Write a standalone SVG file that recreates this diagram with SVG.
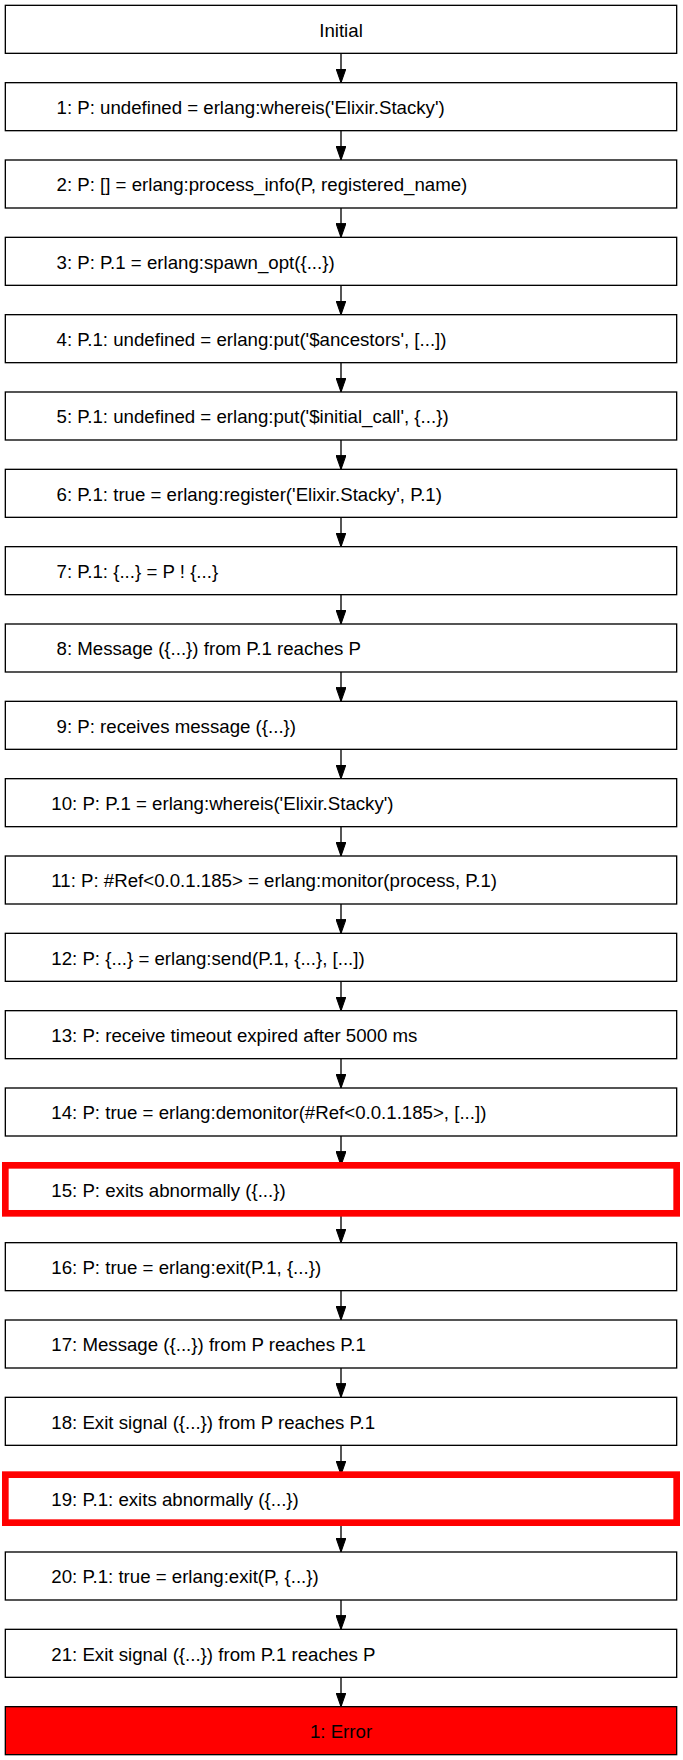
<svg xmlns="http://www.w3.org/2000/svg" width="683" height="1760" viewBox="0 0 683 1760">
<style>
.box{fill:#ffffff;stroke:#000000;stroke-width:1.33}
.hl{fill:#ffffff;stroke:#ff0000;stroke-width:6.67}
.err{fill:#ff0000;stroke:#000000;stroke-width:1.33}
text{font-family:"Liberation Sans",Arial,Helvetica,sans-serif;font-size:18.67px;fill:#000000}
.c{text-anchor:middle}
.edge{stroke:#000000;stroke-width:1.33;fill:none}
</style>
<defs>
<marker id="ah" markerUnits="userSpaceOnUse" markerWidth="14" markerHeight="10" viewBox="0 -4.67 13.33 9.34" refX="13.33" refY="0" orient="auto">
<path d="M0,-4.67 L13.33,0 L0,4.67 Z" fill="#000000" stroke="#000000" stroke-width="1"/>
</marker>
</defs>
<g id="connectors">
<line class="edge" x1="341" y1="53.33" x2="341" y2="82.67" marker-end="url(#ah)"/>
<line class="edge" x1="341" y1="130.67" x2="341" y2="160" marker-end="url(#ah)"/>
<line class="edge" x1="341" y1="208" x2="341" y2="237.33" marker-end="url(#ah)"/>
<line class="edge" x1="341" y1="285.33" x2="341" y2="314.67" marker-end="url(#ah)"/>
<line class="edge" x1="341" y1="362.67" x2="341" y2="392" marker-end="url(#ah)"/>
<line class="edge" x1="341" y1="440" x2="341" y2="469.33" marker-end="url(#ah)"/>
<line class="edge" x1="341" y1="517.33" x2="341" y2="546.67" marker-end="url(#ah)"/>
<line class="edge" x1="341" y1="594.67" x2="341" y2="624" marker-end="url(#ah)"/>
<line class="edge" x1="341" y1="672" x2="341" y2="701.33" marker-end="url(#ah)"/>
<line class="edge" x1="341" y1="749.33" x2="341" y2="778.67" marker-end="url(#ah)"/>
<line class="edge" x1="341" y1="826.67" x2="341" y2="856" marker-end="url(#ah)"/>
<line class="edge" x1="341" y1="904" x2="341" y2="933.33" marker-end="url(#ah)"/>
<line class="edge" x1="341" y1="981.33" x2="341" y2="1010.67" marker-end="url(#ah)"/>
<line class="edge" x1="341" y1="1058.67" x2="341" y2="1088" marker-end="url(#ah)"/>
<line class="edge" x1="341" y1="1136" x2="341" y2="1165.33" marker-end="url(#ah)"/>
<line class="edge" x1="341" y1="1213.33" x2="341" y2="1242.67" marker-end="url(#ah)"/>
<line class="edge" x1="341" y1="1290.67" x2="341" y2="1320" marker-end="url(#ah)"/>
<line class="edge" x1="341" y1="1368" x2="341" y2="1397.33" marker-end="url(#ah)"/>
<line class="edge" x1="341" y1="1445.33" x2="341" y2="1474.67" marker-end="url(#ah)"/>
<line class="edge" x1="341" y1="1522.67" x2="341" y2="1552" marker-end="url(#ah)"/>
<line class="edge" x1="341" y1="1600" x2="341" y2="1629.33" marker-end="url(#ah)"/>
<line class="edge" x1="341" y1="1677.33" x2="341" y2="1706.67" marker-end="url(#ah)"/>
</g>
<g id="n0"><rect class="box" x="5.33" y="5.33" width="671.34" height="48"/><text class="c" x="341" y="36.5">Initial</text></g>
<g id="n1"><rect class="box" x="5.33" y="82.67" width="671.34" height="48"/><text x="56.5" y="113.83">1: P: undefined = erlang:whereis('Elixir.Stacky')</text></g>
<g id="n2"><rect class="box" x="5.33" y="160" width="671.34" height="48"/><text x="56.5" y="191.17">2: P: [] = erlang:process_info(P, registered_name)</text></g>
<g id="n3"><rect class="box" x="5.33" y="237.33" width="671.34" height="48"/><text x="56.5" y="268.5">3: P: P.1 = erlang:spawn_opt({...})</text></g>
<g id="n4"><rect class="box" x="5.33" y="314.67" width="671.34" height="48"/><text x="56.5" y="345.83">4: P.1: undefined = erlang:put('$ancestors', [...])</text></g>
<g id="n5"><rect class="box" x="5.33" y="392" width="671.34" height="48"/><text x="56.5" y="423.17">5: P.1: undefined = erlang:put('$initial_call', {...})</text></g>
<g id="n6"><rect class="box" x="5.33" y="469.33" width="671.34" height="48"/><text x="56.5" y="500.5">6: P.1: true = erlang:register('Elixir.Stacky', P.1)</text></g>
<g id="n7"><rect class="box" x="5.33" y="546.67" width="671.34" height="48"/><text x="56.5" y="577.83">7: P.1: {...} = P ! {...}</text></g>
<g id="n8"><rect class="box" x="5.33" y="624" width="671.34" height="48"/><text x="56.5" y="655.17">8: Message ({...}) from P.1 reaches P</text></g>
<g id="n9"><rect class="box" x="5.33" y="701.33" width="671.34" height="48"/><text x="56.5" y="732.5">9: P: receives message ({...})</text></g>
<g id="n10"><rect class="box" x="5.33" y="778.67" width="671.34" height="48"/><text x="51.3" y="809.83">10: P: P.1 = erlang:whereis('Elixir.Stacky')</text></g>
<g id="n11"><rect class="box" x="5.33" y="856" width="671.34" height="48"/><text x="51.3" y="887.17">11: P: #Ref&lt;0.0.1.185&gt; = erlang:monitor(process, P.1)</text></g>
<g id="n12"><rect class="box" x="5.33" y="933.33" width="671.34" height="48"/><text x="51.3" y="964.5">12: P: {...} = erlang:send(P.1, {...}, [...])</text></g>
<g id="n13"><rect class="box" x="5.33" y="1010.67" width="671.34" height="48"/><text x="51.3" y="1041.83">13: P: receive timeout expired after 5000 ms</text></g>
<g id="n14"><rect class="box" x="5.33" y="1088" width="671.34" height="48"/><text x="51.3" y="1119.17">14: P: true = erlang:demonitor(#Ref&lt;0.0.1.185&gt;, [...])</text></g>
<g id="n15"><rect class="hl" x="5.33" y="1165.33" width="671.34" height="48"/><text x="51.3" y="1196.5">15: P: exits abnormally ({...})</text></g>
<g id="n16"><rect class="box" x="5.33" y="1242.67" width="671.34" height="48"/><text x="51.3" y="1273.83">16: P: true = erlang:exit(P.1, {...})</text></g>
<g id="n17"><rect class="box" x="5.33" y="1320" width="671.34" height="48"/><text x="51.3" y="1351.17">17: Message ({...}) from P reaches P.1</text></g>
<g id="n18"><rect class="box" x="5.33" y="1397.33" width="671.34" height="48"/><text x="51.3" y="1428.5">18: Exit signal ({...}) from P reaches P.1</text></g>
<g id="n19"><rect class="hl" x="5.33" y="1474.67" width="671.34" height="48"/><text x="51.3" y="1505.83">19: P.1: exits abnormally ({...})</text></g>
<g id="n20"><rect class="box" x="5.33" y="1552" width="671.34" height="48"/><text x="51.3" y="1583.17">20: P.1: true = erlang:exit(P, {...})</text></g>
<g id="n21"><rect class="box" x="5.33" y="1629.33" width="671.34" height="48"/><text x="51.3" y="1660.5">21: Exit signal ({...}) from P.1 reaches P</text></g>
<g id="n22"><rect class="err" x="5.33" y="1706.67" width="671.34" height="48"/><text class="c" x="341" y="1737.83">1: Error</text></g>
</svg>
